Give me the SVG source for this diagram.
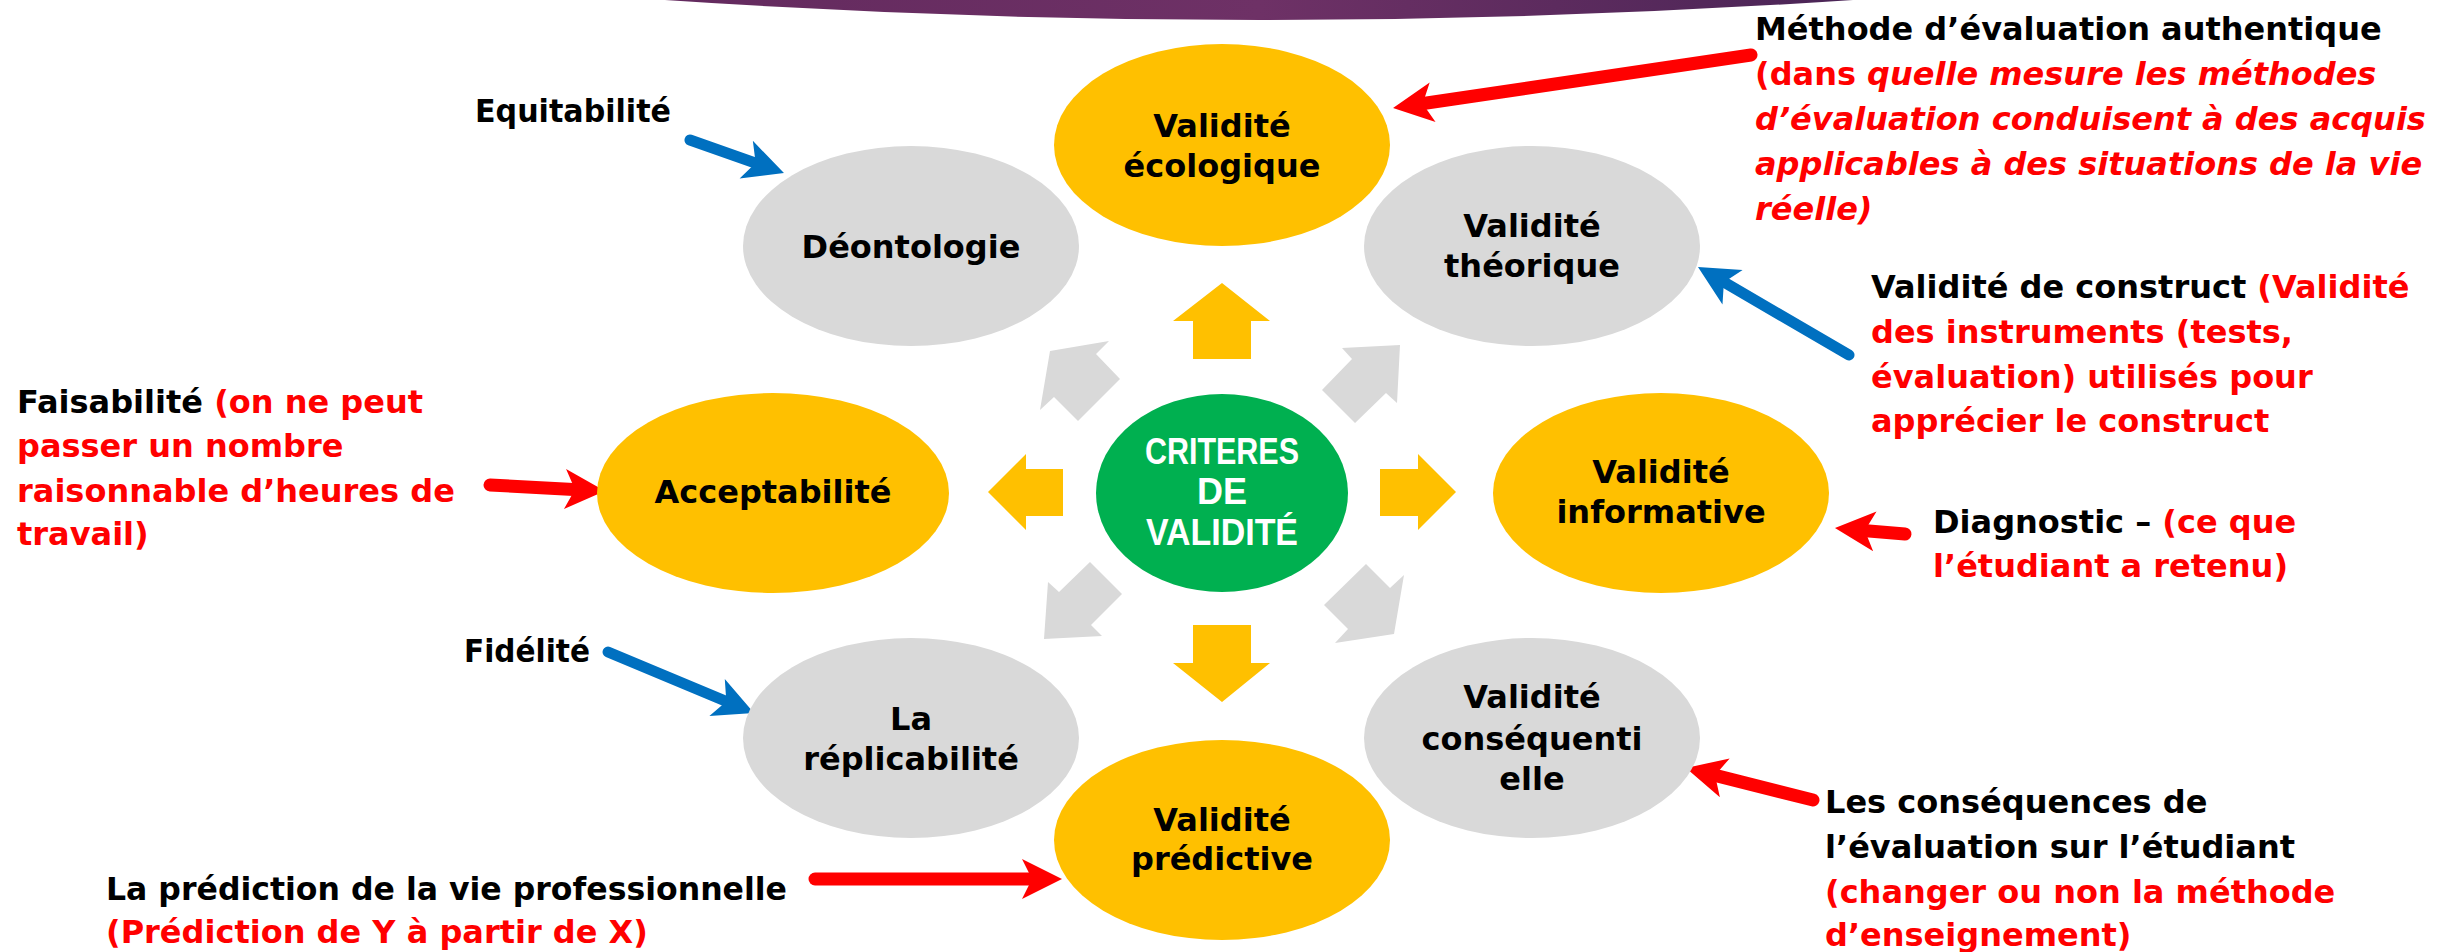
<svg xmlns="http://www.w3.org/2000/svg" width="2458" height="952" viewBox="0 0 2458 952">
<style>
text{font-family:"DejaVu Sans","Liberation Sans",sans-serif;font-weight:bold;font-size:32px;fill:#000}
.c{text-anchor:middle}
.r{fill:#FF0000}
.i{font-style:italic}
.w{fill:#FFFFFF;font-family:"Liberation Sans Narrow","Liberation Sans",sans-serif;font-size:36px;text-anchor:middle}
.yel{fill:#FFC000}
.gry{fill:#D9D9D9}
.spk-y{fill:#FFC000}
.spk-g{fill:#D9D9D9}
.ar{fill:none;stroke:#FF0000;stroke-width:13;stroke-linecap:round}
.ab{fill:none;stroke:#0070C0;stroke-width:11;stroke-linecap:round}
</style>
<defs>
<linearGradient id="band" x1="0" y1="0" x2="1" y2="0">
<stop offset="0" stop-color="#632A5E"/>
<stop offset="0.5" stop-color="#6E3166"/>
<stop offset="1" stop-color="#4A2556"/>
</linearGradient>
<marker id="hr" markerUnits="userSpaceOnUse" orient="auto" refX="0" refY="0" markerWidth="60" markerHeight="60" viewBox="-30 -30 60 60" overflow="visible">
<path d="M22,0 L-18,-20 L-8,0 L-18,20 Z" fill="#FF0000"/>
</marker>
<marker id="hb" markerUnits="userSpaceOnUse" orient="auto" refX="0" refY="0" markerWidth="60" markerHeight="60" viewBox="-30 -30 60 60" overflow="visible">
<path d="M22,0 L-18,-20 L-8,0 L-18,20 Z" fill="#0070C0"/>
</marker>
</defs>
<rect width="2458" height="952" fill="#FFFFFF"/>
<path d="M665,0 Q1259,40 1853,0 Z" fill="url(#band)"/>

<g id="connectors">
<g id="spokes">
<polygon class="spk-y" points="1222,283 1270,321 1251,321 1251,359 1193,359 1193,321 1173,321"/>
<polygon class="spk-y" points="1193,625 1251,625 1251,663 1270,663 1222,702 1173,663 1193,663"/>
<polygon class="spk-y" points="988,492 1026,454 1026,469 1063,469 1063,516 1026,516 1026,530"/>
<polygon class="spk-y" points="1380,469 1418,469 1418,454 1456,492 1418,530 1418,516 1380,516"/>
<polygon class="spk-g" points="1050,351 1109,341 1096,354 1120,379 1078,421 1054,397 1040,410"/>
<polygon class="spk-g" points="1400,345 1342,348 1352,359 1322,390 1355,423 1386,393 1397,403"/>
<polygon class="spk-g" points="1044,639 1048,582 1059,592 1090,562 1122,594 1091,625 1102,636"/>
<polygon class="spk-g" points="1394,634 1404,575 1390,588 1366,564 1324,605 1348,629 1335,643"/>
</g>
<g id="annotation-arrows">
<line class="ab" x1="690" y1="140" x2="763.2" y2="165.7" marker-end="url(#hb)"/>
<line class="ar" x1="1751" y1="55" x2="1414.8" y2="104.8" marker-end="url(#hr)"/>
<line class="ab" x1="1849" y1="355" x2="1717" y2="278.1" marker-end="url(#hb)"/>
<line class="ar" x1="490" y1="485" x2="583" y2="489.9" marker-end="url(#hr)"/>
<line class="ar" x1="1905" y1="534" x2="1856.9" y2="529.9" marker-end="url(#hr)"/>
<line class="ab" x1="608" y1="652" x2="733.7" y2="704.5" marker-end="url(#hb)"/>
<line class="ar" x1="1813" y1="800" x2="1707.3" y2="773.4" marker-end="url(#hr)"/>
<line class="ar" x1="815" y1="879" x2="1040" y2="879" marker-end="url(#hr)"/>
</g>
</g>

<g id="node-center">
<ellipse cx="1222" cy="493" rx="126" ry="99" fill="#00B050"/>
<text class="w" x="1222" y="464" textLength="154" lengthAdjust="spacingAndGlyphs">CRITERES</text>
<text class="w" x="1222" y="504">DE</text>
<text class="w" x="1222" y="545" textLength="152" lengthAdjust="spacingAndGlyphs">VALIDITÉ</text>
</g>
<g id="node-ecologique">
<ellipse class="yel" cx="1222" cy="145" rx="168" ry="101"/>
<text class="c" x="1222" y="137">Validité</text>
<text class="c" x="1222" y="177">écologique</text>
</g>
<g id="node-deontologie">
<ellipse class="gry" cx="911" cy="246" rx="168" ry="100"/>
<text class="c" x="911" y="258">Déontologie</text>
</g>
<g id="node-theorique">
<ellipse class="gry" cx="1532" cy="246" rx="168" ry="100"/>
<text class="c" x="1532" y="237">Validité</text>
<text class="c" x="1532" y="277">théorique</text>
</g>
<g id="node-acceptabilite">
<ellipse class="yel" cx="773" cy="493" rx="176" ry="100"/>
<text class="c" x="773" y="503">Acceptabilité</text>
</g>
<g id="node-informative">
<ellipse class="yel" cx="1661" cy="493" rx="168" ry="100"/>
<text class="c" x="1661" y="483">Validité</text>
<text class="c" x="1661" y="523">informative</text>
</g>
<g id="node-replicabilite">
<ellipse class="gry" cx="911" cy="738" rx="168" ry="100"/>
<text class="c" x="911" y="730">La</text>
<text class="c" x="911" y="770">réplicabilité</text>
</g>
<g id="node-consequentielle">
<ellipse class="gry" cx="1532" cy="738" rx="168" ry="100"/>
<text class="c" x="1532" y="708">Validité</text>
<text class="c" x="1532" y="750">conséquenti</text>
<text class="c" x="1532" y="790">elle</text>
</g>
<g id="node-predictive">
<ellipse class="yel" cx="1222" cy="840" rx="168" ry="100"/>
<text class="c" x="1222" y="831">Validité</text>
<text class="c" x="1222" y="870">prédictive</text>
</g>

<g id="label-equitabilite">
<text x="475" y="122" textLength="196" lengthAdjust="spacingAndGlyphs">Equitabilité</text>
</g>
<g id="label-methode">
<text x="1755" y="40">Méthode d’évaluation authentique</text>
<text x="1755" y="85" class="r">(dans <tspan class="i">quelle mesure les méthodes</tspan></text>
<text x="1755" y="130" class="r i">d’évaluation conduisent à des acquis</text>
<text x="1755" y="175" class="r i">applicables à des situations de la vie</text>
<text x="1755" y="220" class="r i">réelle)</text>
</g>
<g id="label-construct">
<text x="1871" y="298">Validité de construct <tspan class="r">(Validité</tspan></text>
<text x="1871" y="343" class="r">des instruments (tests,</text>
<text x="1871" y="388" class="r">évaluation) utilisés pour</text>
<text x="1871" y="432" class="r">apprécier le construct</text>
</g>
<g id="label-faisabilite">
<text x="17" y="413">Faisabilité <tspan class="r">(on ne peut</tspan></text>
<text x="17" y="457" class="r">passer un nombre</text>
<text x="17" y="502" class="r">raisonnable d’heures de</text>
<text x="17" y="545" class="r">travail)</text>
</g>
<g id="label-diagnostic">
<text x="1933" y="533">Diagnostic – <tspan class="r">(ce que</tspan></text>
<text x="1933" y="577" class="r">l’étudiant a retenu)</text>
</g>
<g id="label-fidelite">
<text x="464" y="662" textLength="126" lengthAdjust="spacingAndGlyphs">Fidélité</text>
</g>
<g id="label-consequences">
<text x="1825" y="813">Les conséquences de</text>
<text x="1825" y="858">l’évaluation sur l’étudiant</text>
<text x="1825" y="903" class="r">(changer ou non la méthode</text>
<text x="1825" y="946" class="r">d’enseignement)</text>
</g>
<g id="label-prediction">
<text x="106" y="900" textLength="681" lengthAdjust="spacingAndGlyphs">La prédiction de la vie professionnelle</text>
<text x="106" y="943" class="r">(Prédiction de Y à partir de X)</text>
</g>
</svg>
